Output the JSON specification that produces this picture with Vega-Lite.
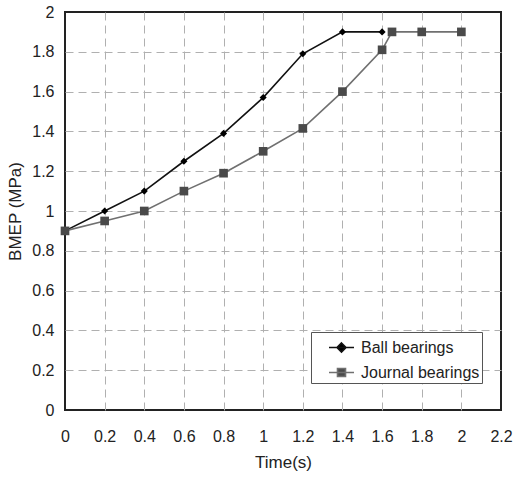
{
  "$schema": "https://vega.github.io/schema/vega-lite/v6.json",
  "width": 436,
  "height": 398,
  "autosize": {"type": "none"},
  "padding": {"left": 65, "top": 12, "right": 27, "bottom": 68},
  "background": "white",
  "config": {
    "view": {"stroke": "#222222", "strokeWidth": 2},
    "font": "Liberation Sans",
    "legend": {
      "orient": "none", "legendX": 246, "legendY": 320,
      "labelFontSize": 16, "labelColor": "#222222",
      "strokeColor": "#555555", "fillColor": "white",
      "padding": 2, "symbolSize": 625, "rowPadding": 3, "symbolOffset": 15, "labelOffset": 6,
      "symbolStrokeWidth": 1.6, "symbolOpacity": 1
    }
  },
  "data": {
    "values": [
      {"t": 0, "bmep": 0.9, "series": "Ball bearings"},
      {"t": 0.2, "bmep": 1.0, "series": "Ball bearings"},
      {"t": 0.4, "bmep": 1.1, "series": "Ball bearings"},
      {"t": 0.6, "bmep": 1.25, "series": "Ball bearings"},
      {"t": 0.8, "bmep": 1.39, "series": "Ball bearings"},
      {"t": 1.0, "bmep": 1.57, "series": "Ball bearings"},
      {"t": 1.2, "bmep": 1.79, "series": "Ball bearings"},
      {"t": 1.4, "bmep": 1.9, "series": "Ball bearings"},
      {"t": 1.6, "bmep": 1.9, "series": "Ball bearings"},
      {"t": 0, "bmep": 0.9, "series": "Journal bearings"},
      {"t": 0.2, "bmep": 0.95, "series": "Journal bearings"},
      {"t": 0.4, "bmep": 1.0, "series": "Journal bearings"},
      {"t": 0.6, "bmep": 1.1, "series": "Journal bearings"},
      {"t": 0.8, "bmep": 1.19, "series": "Journal bearings"},
      {"t": 1.0, "bmep": 1.3, "series": "Journal bearings"},
      {"t": 1.2, "bmep": 1.415, "series": "Journal bearings"},
      {"t": 1.4, "bmep": 1.6, "series": "Journal bearings"},
      {"t": 1.6, "bmep": 1.81, "series": "Journal bearings"},
      {"t": 1.65, "bmep": 1.9, "series": "Journal bearings"},
      {"t": 1.8, "bmep": 1.9, "series": "Journal bearings"},
      {"t": 2.0, "bmep": 1.9, "series": "Journal bearings"}
    ]
  },
  "encoding": {
    "x": {
      "field": "t", "type": "quantitative",
      "scale": {"domain": [0, 2.2], "nice": false, "zero": false},
      "axis": {
        "title": "Time(s)",
        "values": [0, 0.2, 0.4, 0.6, 0.8, 1, 1.2, 1.4, 1.6, 1.8, 2, 2.2],
        "format": "~g",
        "labelFlush": false, "labelOverlap": false,
        "grid": true, "gridDash": [8, 5], "gridColor": "#b0b0b0", "gridWidth": 1,
        "gridOpacity": {"condition": {"test": "datum.value <= 0.001 || datum.value >= 2.199", "value": 0}, "value": 1},
        "domain": false, "ticks": false,
        "labelPadding": 18, "labelFontSize": 16, "labelColor": "#222222",
        "titleFontSize": 17, "titleFontWeight": "normal", "titleColor": "#222222", "titlePadding": 10
      }
    },
    "y": {
      "field": "bmep", "type": "quantitative",
      "scale": {"domain": [0, 2], "nice": false},
      "axis": {
        "title": "BMEP (MPa)",
        "values": [0, 0.2, 0.4, 0.6, 0.8, 1, 1.2, 1.4, 1.6, 1.8, 2],
        "format": "~g",
        "labelFlush": false, "labelOverlap": false,
        "grid": true, "gridDash": [8, 5], "gridColor": "#b0b0b0", "gridWidth": 1,
        "gridOpacity": {"condition": {"test": "datum.value <= 0.001 || datum.value >= 1.999", "value": 0}, "value": 1},
        "domain": false, "ticks": false,
        "labelPadding": 11, "labelFontSize": 16, "labelColor": "#222222",
        "titleFontSize": 17, "titleFontWeight": "normal", "titleColor": "#222222", "titlePadding": 7
      }
    }
  },
  "layer": [
    {
      "mark": {"type": "line", "strokeWidth": 1.6},
      "encoding": {
        "stroke": {
          "field": "series", "type": "nominal",
          "scale": {"domain": ["Ball bearings", "Journal bearings"], "range": ["#111111", "#707070"]},
          "legend": {"title": null}
        }
      }
    },
    {
      "transform": [{"filter": "datum.series === 'Ball bearings'"}],
      "mark": {"type": "point", "filled": true, "opacity": 1, "shape": "diamond", "size": 50, "color": "#000000"}
    },
    {
      "transform": [{"filter": "datum.series === 'Journal bearings'"}],
      "mark": {"type": "point", "filled": true, "opacity": 1, "shape": "square", "size": 75, "color": "#4a4a4a"}
    },
    {
      "mark": {"type": "point", "filled": true, "opacity": 0},
      "encoding": {
        "shape": {
          "field": "series", "type": "nominal",
          "scale": {"domain": ["Ball bearings", "Journal bearings"], "range": ["M-1,0H1M0,-0.36L0.36,0L0,0.36L-0.36,0Z", "M-1,0H1M-0.32,-0.32H0.32V0.32H-0.32Z"]},
          "legend": {"title": null}
        },
        "fill": {
          "field": "series", "type": "nominal",
          "scale": {"domain": ["Ball bearings", "Journal bearings"], "range": ["#000000", "#4a4a4a"]},
          "legend": {"title": null}
        },
        "stroke": {
          "field": "series", "type": "nominal",
          "legend": {"title": null}
        }
      }
    }
  ]
}
